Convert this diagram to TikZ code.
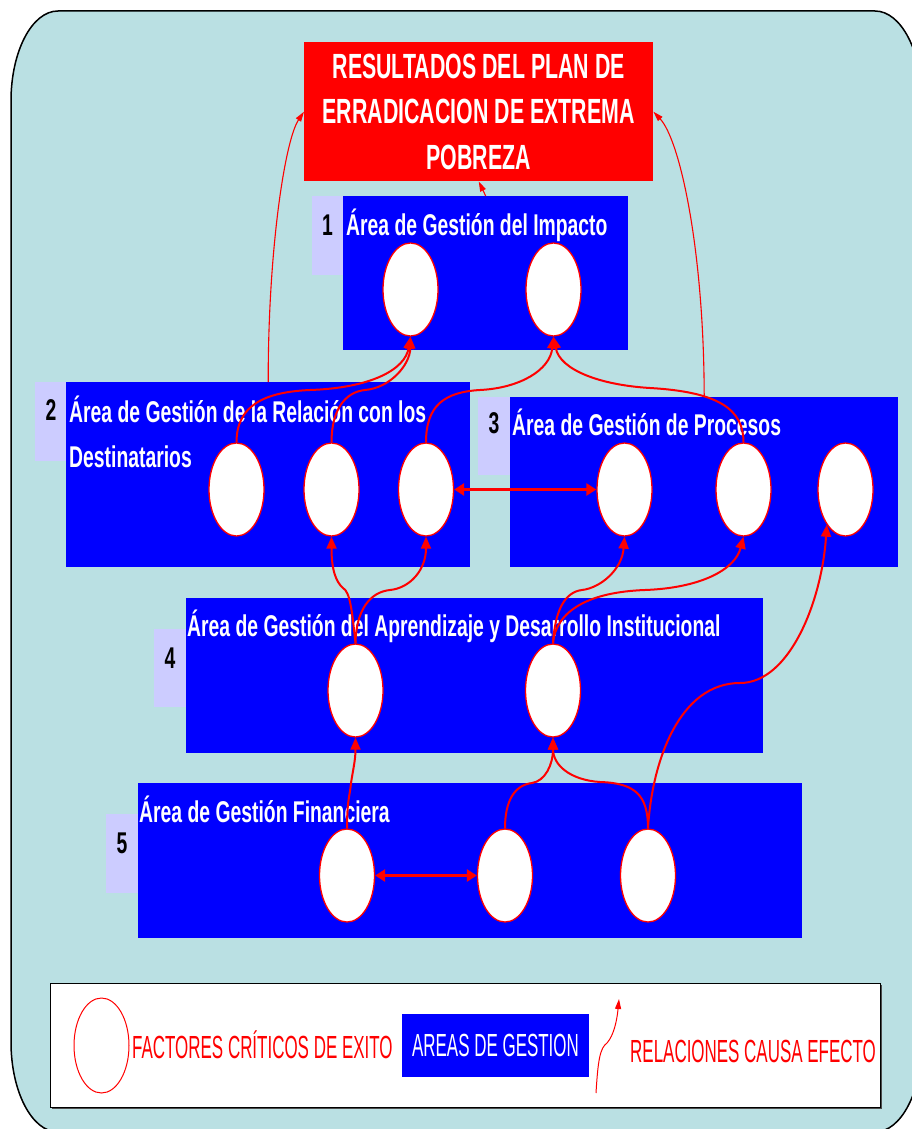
\documentclass[tikz,border=0pt]{standalone}
\usepackage{fontspec}
\setmainfont{Liberation Sans}
\newfontfamily\narrowsans{Liberation Sans}[FakeStretch=0.645]
\newfontfamily\headsans{Liberation Sans}[FakeStretch=0.61]
\newfontfamily\narrowersans{Liberation Sans}[FakeStretch=0.53]
\usetikzlibrary{shapes.geometric,arrows.meta}

\definecolor{panelbg}{HTML}{BAE0E3}
\definecolor{areablue}{HTML}{0000FF}
\definecolor{tagbg}{HTML}{CCCCFF}
\definecolor{linkred}{HTML}{FF0000}

\tikzset{
  areabox/.style={fill=areablue, draw=none, inner sep=0pt, anchor=north west},
  tagbox/.style={fill=tagbg, draw=none, inner sep=0pt, anchor=north west},
  areatitle/.style={anchor=base west, inner sep=0pt, text=white,
    font=\narrowsans\bfseries\fontsize{30}{36}\selectfont},
  tagnum/.style={anchor=base, inner sep=0pt, text=black,
    font=\narrowsans\bfseries\fontsize{30}{36}\selectfont},
  fcf/.style={ellipse, draw=linkred, fill=white, line width=1.3pt,
    minimum width=55pt, minimum height=93pt, inner sep=0pt},
  linkthick/.style={draw=linkred, line width=2pt,
    -{Triangle[length=12pt,width=10pt]}},
  linkthin/.style={draw=linkred, line width=1.1pt,
    -{Triangle[length=10pt,width=6pt]}},
  linkboth/.style={draw=linkred, line width=3pt,
    {Triangle[length=10pt,width=12pt]}-{Triangle[length=10pt,width=12pt]}},
  legendtext/.style={anchor=base west, inner sep=0pt, text=linkred,
    font=\narrowersans\fontsize{32}{36}\selectfont},
}

\begin{document}
\begin{tikzpicture}[x=1pt,y=-1pt]
\useasboundingbox (0,0) rectangle (912,1129);
\clip (0,0) rectangle (912,1129);

% rounded panel behind everything
\draw[fill=panelbg, draw=black, line width=1.5pt]
  (58,11) -- (875,11) .. controls (901,11) and (922,51.3) .. (922,101)
  -- (922,1042) .. controls (922,1091.7) and (901,1132) .. (875,1132)
  -- (58,1132) .. controls (32,1132) and (11,1091.7) .. (11,1042)
  -- (11,101) .. controls (11,51.3) and (32,11) .. (58,11) -- cycle;

% results box
\node[fill=linkred, inner sep=0pt, minimum width=349pt, minimum height=139pt,
  anchor=north west, text=white, align=center,
  font=\headsans\bfseries\fontsize{35}{45.5}\selectfont] (res) at (304,42)
  {RESULTADOS DEL PLAN DE\\ERRADICACION DE EXTREMA\\POBREZA};

% management areas
\node[areabox, minimum width=285pt, minimum height=154pt] (box1) at (343,196) {};
\node[tagbox, minimum width=31pt, minimum height=79pt] (tag1) at (312,196) {};
\node[tagnum] (num1) at (327.5,235) {1};
\node[areatitle] (title1) at (346,235) {Área de Gestión del Impacto};

\node[areabox, minimum width=404pt, minimum height=185pt] (box2) at (66,382) {};
\node[tagbox, minimum width=31pt, minimum height=79pt] (tag2) at (35,382) {};
\node[tagnum] (num2) at (51,420) {2};
\node[areatitle] (title2a) at (69,422) {Área de Gestión de la Relación con los};
\node[areatitle] (title2b) at (69,467) {Destinatarios};

\node[areabox, minimum width=388pt, minimum height=170pt] (box3) at (510,397) {};
\node[tagbox, minimum width=32pt, minimum height=78pt] (tag3) at (478,397) {};
\node[tagnum] (num3) at (494,433) {3};
\node[areatitle] (title3) at (512,435) {Área de Gestión de Procesos};

\node[areabox, minimum width=577pt, minimum height=155pt] (box4) at (186,598) {};
\node[tagbox, minimum width=32pt, minimum height=78pt] (tag4) at (154,629) {};
\node[tagnum] (num4) at (170,668) {4};
\node[areatitle] (title4) at (187,636) {Área de Gestión del Aprendizaje y Desarrollo Institucional};

\node[areabox, minimum width=664pt, minimum height=155pt] (box5) at (138,783) {};
\node[tagbox, minimum width=32pt, minimum height=79pt] (tag5) at (106,814) {};
\node[tagnum] (num5) at (122,853) {5};
\node[areatitle] (title5) at (139,822) {Área de Gestión Financiera};

% critical success factors
\node[fcf] (e1a) at (410.5,289.5) {};
\node[fcf] (e1b) at (553.5,289.5) {};
\node[fcf] (e2a) at (236.5,489.5) {};
\node[fcf] (e2b) at (331.5,489.5) {};
\node[fcf] (e2c) at (426,489.5) {};
\node[fcf] (e3a) at (624.5,489.5) {};
\node[fcf] (e3b) at (743.5,489.5) {};
\node[fcf] (e3c) at (845.5,489.5) {};
\node[fcf] (e4a) at (355.5,690.5) {};
\node[fcf] (e4b) at (553,690.5) {};
\node[fcf] (e5a) at (347,875.5) {};
\node[fcf] (e5b) at (505,875.5) {};
\node[fcf] (e5c) at (648,875.5) {};

% cause-effect relations towards the results
\draw[linkthin] (box2.north) .. controls (268,250) and (285,140) .. (res.west);
\draw[linkthin] (box3.north) .. controls (704,250) and (680,140) .. (res.east);
\draw[linkthin] (box1.north) -- (res.south);

% area 2 and 3 -> area 1
\draw[linkthick] (e2a.north) .. controls (236.5,405) and (265,392) .. (310,390)
  .. controls (370,388) and (405,370) .. (e1a.south);
\draw[linkthick] (e2b.north) .. controls (331.5,410) and (345,392) .. (365,390)
  .. controls (390,388) and (410,365) .. (e1a.south);
\draw[linkthick] (e2c.north) .. controls (426,405) and (445,392) .. (480,390)
  .. controls (520,388) and (550,370) .. (e1b.south);
\draw[linkthick] (e3b.north) .. controls (743.5,410) and (720,392) .. (650,388)
  .. controls (600,385) and (560,370) .. (e1b.south);

% relation between area 2 and area 3
\draw[linkboth] (e2c.east) -- (e3a.west);

% area 4 -> areas 2 and 3
\draw[linkthick] (e4a.north) .. controls (352,610) and (350,592) .. (343,588)
  .. controls (336,582) and (331.5,570) .. (e2b.south);
\draw[linkthick] (e4a.north) .. controls (356,610) and (370,592) .. (390,590)
  .. controls (410,588) and (426,570) .. (e2c.south);
\draw[linkthick] (e4b.north) .. controls (555,610) and (565,592) .. (582,590)
  .. controls (600,588) and (622,570) .. (e3a.south);
\draw[linkthick] (e4b.north) .. controls (556,610) and (590,592) .. (645,590)
  .. controls (700,588) and (735,570) .. (e3b.south);

% area 5 -> areas 4 and 3
\draw[linkthick] (e5c.north) .. controls (652,760) and (680,683) .. (740,683)
  .. controls (790,683) and (822,600) .. (e3c.-118);
\draw[linkthick] (e5a.north) .. controls (347,800) and (350,795) .. (351,783)
  .. controls (353,770) and (355.5,760) .. (e4a.south);
\draw[linkthick] (e5b.north) .. controls (505,800) and (515,785) .. (532,783)
  .. controls (545,781) and (553,765) .. (e4b.south);
\draw[linkthick] (e5c.north) .. controls (648,795) and (635,783) .. (600,782)
  .. controls (570,780) and (553,765) .. (e4b.south);
\draw[linkboth] (e5a.east) -- (e5b.west);

% legend
\fill[black!70] (52,985) rectangle (882,1109);
\node[fill=white, draw=black, line width=1.2pt, inner sep=0pt, anchor=north west,
  minimum width=830pt, minimum height=124pt] (legend) at (50,983) {};
\node[ellipse, draw=linkred, fill=white, line width=1pt, minimum width=55pt,
  minimum height=95pt, inner sep=0pt] (legfcf) at (101.5,1045.5) {};
\node[legendtext] (legfcftext) at (132,1058) {FACTORES CRÍTICOS DE EXITO};
\node[fill=areablue, inner sep=0pt, minimum width=187pt, minimum height=63pt,
  text=white, font=\narrowersans\fontsize{32}{36}\selectfont] (legarea)
  at (495.5,1045.5) {AREAS DE GESTION};
\coordinate (legfrom) at (596,1093);
\coordinate (legto) at (619,999);
\draw[linkthin, line width=1pt] (legfrom) .. controls (598,1060) and (600,1048) .. (607,1043)
  .. controls (614,1035) and (617,1020) .. (legto);
\node[legendtext] (legreltext) at (630,1062) {RELACIONES CAUSA EFECTO};
\end{tikzpicture}
\end{document}
